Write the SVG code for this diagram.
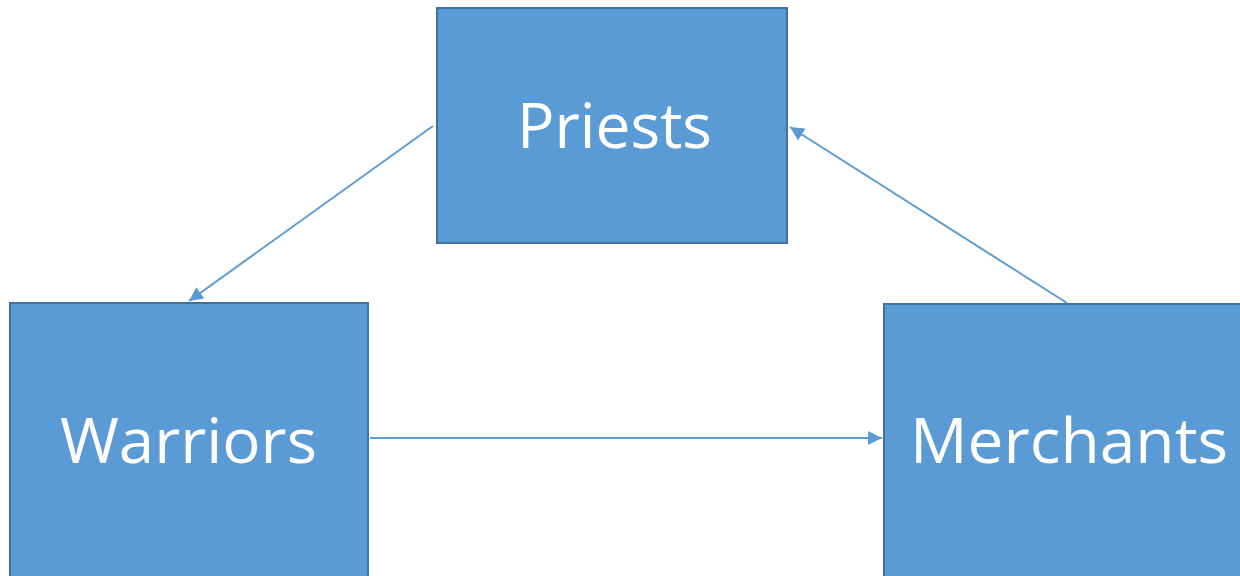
<svg xmlns="http://www.w3.org/2000/svg" width="1240" height="576" viewBox="0 0 1240 576">
<style>
.box{fill:#5B9BD5;stroke:#41719C;stroke-width:2}
.lbl{font-family:"Open Sans","Liberation Sans",sans-serif;font-size:62px;fill:#FFFFFF;text-anchor:middle}
.con{stroke:#5B9BD5;stroke-width:2;fill:none;marker-end:url(#ah)}
</style>
<defs>
<marker id="ah" markerWidth="8" markerHeight="7" refX="7" refY="3.5" orient="auto" markerUnits="strokeWidth">
<path d="M0,0 L7,3.5 L0,7 Z" fill="#5B9BD5"/>
</marker>
</defs>
<rect width="1240" height="576" fill="#FFFFFF"/>
<g id="priests">
<rect class="box" x="437" y="8" width="350" height="235"/>
<text class="lbl" x="614.5" y="148" textLength="195" lengthAdjust="spacingAndGlyphs">Priests</text>
</g>
<g id="warriors">
<rect class="box" x="10" y="303" width="358" height="285"/>
<text class="lbl" x="188.5" y="463" textLength="257" lengthAdjust="spacingAndGlyphs">Warriors</text>
</g>
<g id="merchants">
<rect class="box" x="884" y="304" width="370" height="285"/>
<text class="lbl" x="1069" y="463" textLength="318" lengthAdjust="spacingAndGlyphs">Merchants</text>
</g>
<g id="connectors">
<line class="con" x1="433" y1="126" x2="189" y2="301"/>
<line class="con" x1="1067" y1="303" x2="790" y2="127"/>
<line class="con" x1="370" y1="438" x2="882" y2="438"/>
</g>
</svg>
